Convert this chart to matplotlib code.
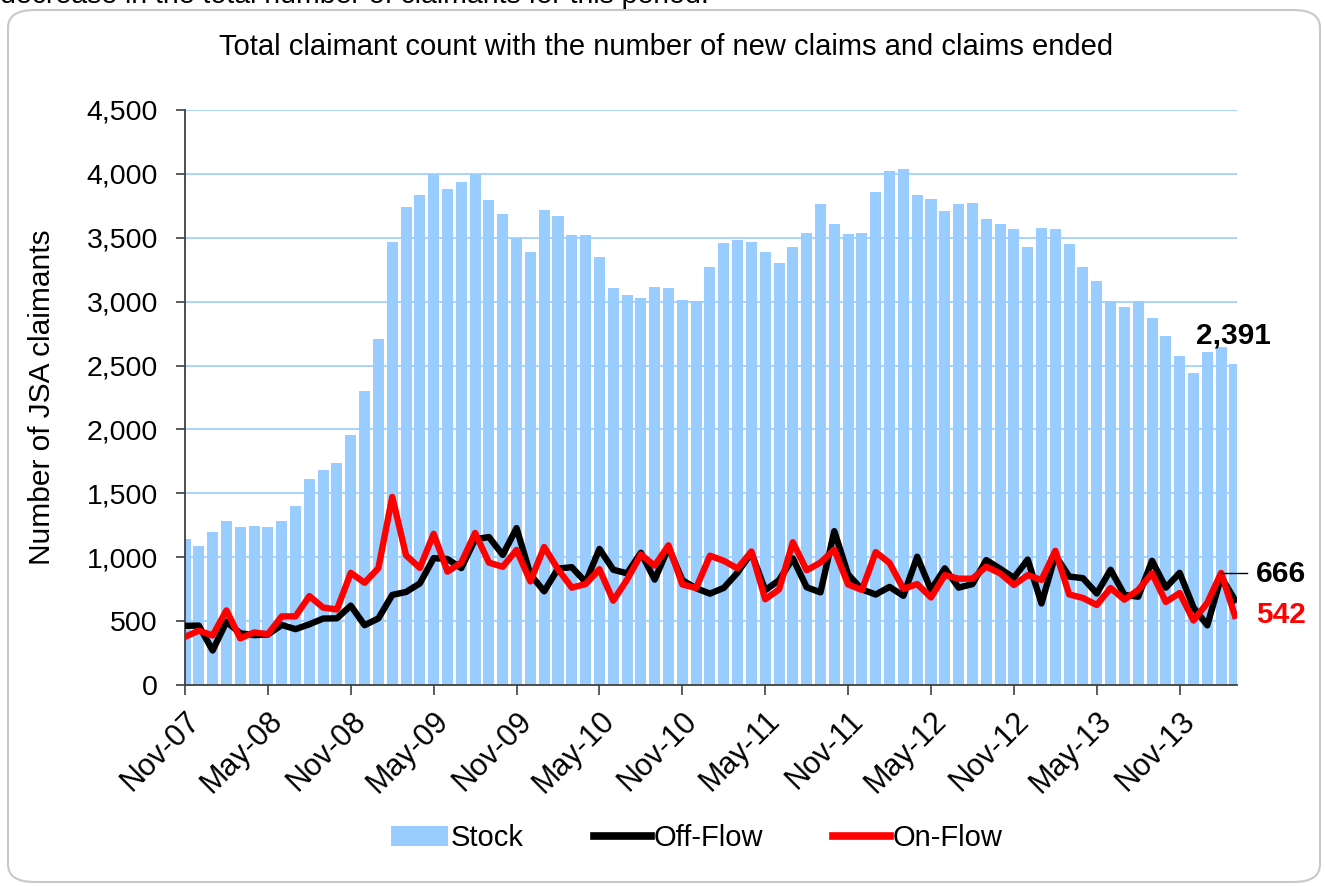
import matplotlib
matplotlib.use("Agg")
import matplotlib.pyplot as plt
from matplotlib.patches import FancyBboxPatch
from matplotlib.lines import Line2D
from matplotlib.patches import Patch
import numpy as np

plt.rcParams['font.family'] = ['Liberation Sans', 'DejaVu Sans']

# Monthly data Nov-07 .. Mar-14
stock = [1140, 1090, 1195, 1285, 1240, 1245, 1240, 1285, 1400, 1610,
         1680, 1740, 1960, 2300, 2705, 3470, 3740, 3835, 4000, 3880,
         3935, 4000, 3795, 3685, 3500, 3390, 3720, 3670, 3520, 3520,
         3350, 3105, 3055, 3025, 3115, 3105, 3015, 3005, 3270, 3460,
         3480, 3470, 3390, 3300, 3430, 3540, 3765, 3610, 3530, 3540,
         3855, 4025, 4040, 3835, 3800, 3710, 3765, 3775, 3650, 3610,
         3570, 3430, 3580, 3570, 3450, 3270, 3160, 3005, 2955, 3005,
         2875, 2735, 2575, 2445, 2605, 2645, 2515]

off_flow = [463, 465, 270, 495, 405, 390, 395, 470, 437, 475,
            520, 522, 621, 468, 521, 705, 728, 795, 993, 986,
            915, 1140, 1158, 1018, 1228, 865, 733, 911, 922, 805,
            1065, 902, 874, 1035, 825, 1076, 820, 757, 715, 760,
            880, 1035, 742, 820, 991, 765, 725, 1204, 865, 748,
            708, 768, 698, 1004, 744, 913, 762, 790, 978, 910,
            839, 982, 638, 1015, 849, 836, 716, 902, 705, 691,
            972, 762, 878, 607, 467, 845, 666]

on_flow = [377, 425, 388, 584, 365, 411, 398, 537, 537, 696,
           606, 591, 878, 800, 915, 1472, 1015, 916, 1183, 887,
           958, 1190, 958, 925, 1057, 811, 1080, 906, 762, 790,
           906, 660, 825, 1021, 934, 1093, 787, 759, 1012, 972,
           912, 1045, 671, 748, 1117, 898, 958, 1060, 787, 744,
           1040, 955, 752, 790, 685, 860, 832, 832, 926, 874,
           783, 860, 822, 1050, 709, 681, 626, 759, 668, 744,
           874, 650, 720, 505, 643, 877, 542]

tick_labels = ["Nov-07", "May-08", "Nov-08", "May-09", "Nov-09", "May-10",
               "Nov-10", "May-11", "Nov-11", "May-12", "Nov-12", "May-13",
               "Nov-13"]

stock_label = "2,391"
off_label = "666"
on_label = "542"

W, H = 1325, 886
fig = plt.figure(figsize=(W / 100, H / 100), dpi=100)
fig.patch.set_facecolor('white')

# rounded chart border
border = FancyBboxPatch((8 / W, 4 / H), (1312) / W, (872) / H,
                        boxstyle="round,pad=0,rounding_size=0.02",
                        transform=fig.transFigure, edgecolor='#c8c8c8',
                        facecolor='none', linewidth=1.5)
fig.patches.append(border)

fig.text(0 / W, 1 - 3 / H, "decrease in the total number of claimants for this period.",
         ha='left', va='baseline', fontsize=20.5, color='black')

ax = fig.add_axes([185 / W, (H - 685) / H, 1052 / W, 575 / H])
x = np.arange(len(stock))

ax.bar(x, stock, width=0.8, color='#99CCFF', zorder=2, label='Stock')
ax.plot(x, off_flow, color='black', lw=4.6, zorder=3, label='Off-Flow',
        solid_joinstyle='round')
ax.plot(x, on_flow, color='#FF0000', lw=4.6, zorder=4, label='On-Flow',
        solid_joinstyle='round')

ax.set_xlim(0, 76.15)
ax.set_ylim(0, 4500)
ax.set_yticks(np.arange(0, 4501, 500))
ax.set_yticklabels([f"{v:,}" for v in range(0, 4501, 500)], fontsize=20.5)
ax.yaxis.grid(True, color='#99CCFF', lw=1.2, zorder=0)
ax.set_axisbelow(True)

ax.set_xticks(np.arange(0, len(stock), 6))
ax.set_xticklabels(tick_labels, rotation=45, ha='right', rotation_mode='anchor',
                   fontsize=22)
ax.tick_params(axis='x', length=7, width=1.2, color='#404040', pad=8)
ax.tick_params(axis='y', length=6.5, width=1.2, color='#404040', pad=13)

for s in ['top', 'right']:
    ax.spines[s].set_visible(False)
for s in ['left', 'bottom']:
    ax.spines[s].set_color('#404040')
    ax.spines[s].set_linewidth(1.3)

ax.set_ylabel("Number of JSA claimants", fontsize=21.5, labelpad=22)

fig.text(666 / W, 1 - 47 / H,
         "Total claimant count with the number of new claims and claims ended",
         ha='center', va='center', fontsize=21)

# annotations
ax.text(73.2, 2739, stock_label, ha='left', va='center', fontsize=21.5,
        fontweight='bold', color='black', clip_on=False)
ax.plot([75, 76.9], [877, 877], color='black', lw=1, clip_on=False, zorder=5)
ax.text(77.5, 869, off_label, ha='left', va='center', fontsize=21.5,
        fontweight='bold', color='black', clip_on=False)
ax.text(77.5, 548, on_label, ha='left', va='center', fontsize=21.5,
        fontweight='bold', color='#FF0000', clip_on=False)

handles = [Patch(facecolor='#99CCFF', edgecolor='none'),
           Line2D([0], [0], color='black', lw=5.5),
           Line2D([0], [0], color='#FF0000', lw=5.5)]
fig.legend(handles, ['Stock', 'Off-Flow', 'On-Flow'], loc='center',
           bbox_to_anchor=(697 / W, 1 - 838 / H), ncol=3, frameon=False,
           fontsize=21, handlelength=1.95, handletextpad=0.1,
           columnspacing=2.4)

fig.savefig("out.png", dpi=100)
